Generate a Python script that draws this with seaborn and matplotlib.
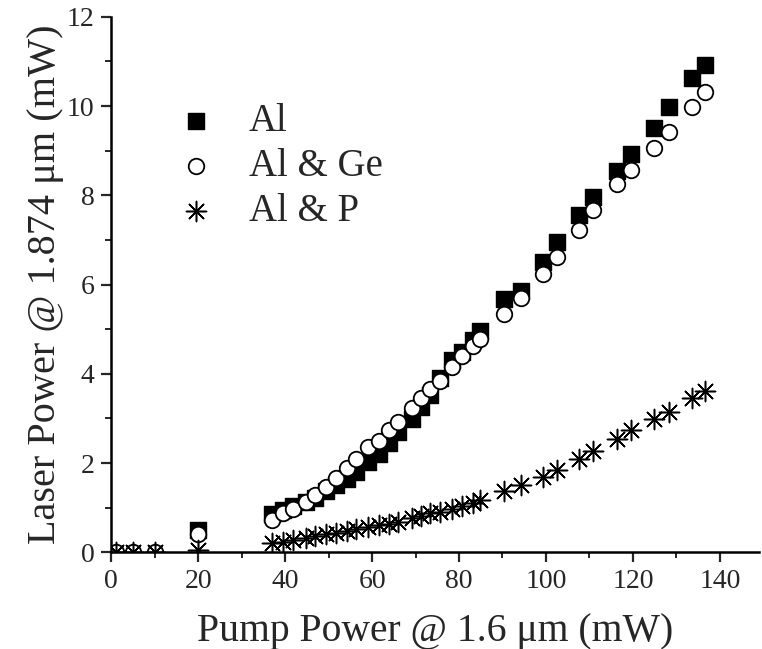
import numpy as np
import pandas as pd
import matplotlib
matplotlib.use('Agg')
import matplotlib.pyplot as plt
import seaborn as sns
from matplotlib.ticker import MultipleLocator

# pump power (mW), shared by the three fibres
pump = [1, 5, 10, 20, 37, 39.5, 41.8, 44.8, 46.8, 49.4, 51.8, 54.3, 56.4, 59, 61.6,
        63.8, 66, 69.2, 71.3, 73.4, 75.7, 78.5, 80.7, 83.2, 84.8, 90.4, 94.2, 99.3,
        102.6, 107.5, 110.9, 116.3, 119.6, 124.8, 128.3, 133.6, 136.7]

laser_al = [np.nan, np.nan, np.nan, 0.5, 0.85, 0.95, 1.03, 1.12, 1.22, 1.38, 1.50, 1.65,
            1.80, 2.02, 2.20, 2.45, 2.70, 2.98, 3.25, 3.52, 3.90, 4.31, 4.48, 4.76, 4.97,
            5.67, 5.86, 6.50, 6.95, 7.57, 7.97, 8.54, 8.93, 9.50, 9.97, 10.62, 10.93]
laser_alge = [0, 0, 0, 0.4, 0.72, 0.87, 0.98, 1.13, 1.28, 1.47, 1.66, 1.90, 2.08, 2.37,
              2.50, 2.74, 2.93, 3.23, 3.45, 3.66, 3.85, 4.16, 4.39, 4.63, 4.79, 5.33, 5.70,
              6.24, 6.62, 7.22, 7.67, 8.26, 8.57, 9.07, 9.41, 9.97, 10.32]
laser_alp = [0, 0, 0, 0.05, 0.20, 0.24, 0.28, 0.33, 0.36, 0.40, 0.44, 0.48, 0.52, 0.57,
             0.61, 0.64, 0.68, 0.76, 0.81, 0.87, 0.90, 0.98, 1.03, 1.11, 1.18, 1.37, 1.51,
             1.68, 1.84, 2.09, 2.28, 2.53, 2.73, 2.98, 3.15, 3.45, 3.62]

labels = ['Al', 'Al & Ge', 'Al & P']

df = pd.DataFrame({'pump': pump, 'Al': laser_al, 'Al & Ge': laser_alge, 'Al & P': laser_alp})

sns.set_style('white')
plt.rcParams['font.family'] = ['Liberation Serif', 'DejaVu Serif']

fig = plt.figure(figsize=(7.62, 6.49), dpi=100)
ax = fig.add_axes([0.146, 0.149, 0.85, 0.825])

# Al: filled squares
sns.scatterplot(data=df, x='pump', y='Al', ax=ax, marker='s', s=120,
                color='black', edgecolor='black', linewidth=1, label=labels[0])
# Al & Ge: open circles
sns.scatterplot(data=df, x='pump', y='Al & Ge', ax=ax, marker='o', s=125,
                facecolor='white', edgecolor='black', linewidth=1.3, label=labels[1])
# Al & P: asterisks
sns.scatterplot(data=df, x='pump', y='Al & P', ax=ax, marker=(8, 2, 0), s=210,
                color='black', linewidth=1.1, label=labels[2])

ax.set_xlim(0, 149)
ax.set_ylim(0, 12)
ax.xaxis.set_major_locator(MultipleLocator(20))
ax.xaxis.set_minor_locator(MultipleLocator(10))
ax.yaxis.set_major_locator(MultipleLocator(2))
ax.yaxis.set_minor_locator(MultipleLocator(1))
ax.tick_params(which='major', direction='out', length=7, width=1.6, labelsize=20,
               bottom=True, left=True, pad=5)
ax.tick_params(which='minor', direction='out', length=4, width=1.4, bottom=True, left=True)

for side in ['top', 'right']:
    ax.spines[side].set_visible(False)
for side in ['left', 'bottom']:
    ax.spines[side].set_linewidth(1.8)
    ax.spines[side].set_color('black')

ax.set_xlabel('Pump Power @ 1.6 \u03bcm (mW)', fontsize=28.5, labelpad=14)
ax.set_ylabel('Laser Power @ 1.874 \u03bcm (mW)', fontsize=29, labelpad=2)

ax.legend(loc='upper left', bbox_to_anchor=(0.017, 0.905), frameon=False, fontsize=28,
          handletextpad=0.35, labelspacing=0.21, markerscale=1.0)

fig.savefig('out.png', dpi=100)
